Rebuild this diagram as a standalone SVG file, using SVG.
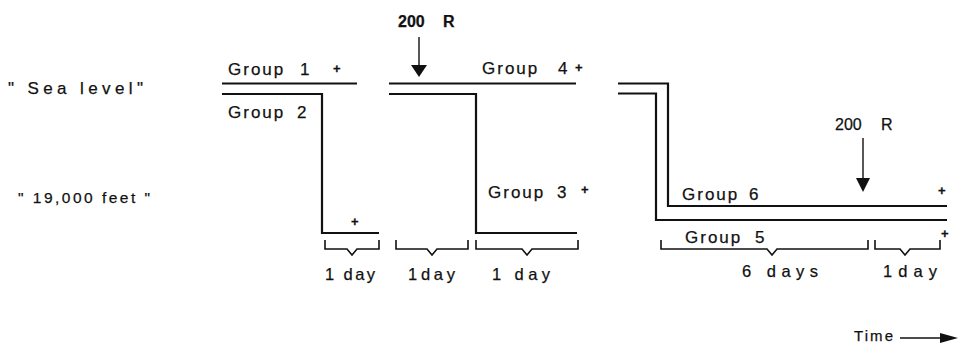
<svg xmlns="http://www.w3.org/2000/svg" width="959" height="343" viewBox="0 0 959 343">
  <style>
    text { font-family: "Liberation Sans", "DejaVu Sans", sans-serif; fill: #111; stroke: #111; stroke-width: 0.25; }
    .lbl { font-size: 17px; letter-spacing: 2px; }
    .alt { font-size: 17px; }
    .dur { font-size: 16.5px; }
    .dose { font-size: 16px; font-weight: bold; }
    .plus { font-size: 13px; font-weight: bold; }
    .track { fill: none; stroke: #111; stroke-width: 2.2; stroke-linejoin: miter; }
    .brace { fill: none; stroke: #111; stroke-width: 1.6; }
    .arrow { stroke: #111; stroke-width: 1.4; }
  </style>
  <rect width="959" height="343" fill="#fff"/>

  <!-- altitude labels -->
  <g id="altitude-labels">
    <text class="alt" x="8" y="94" textLength="135" lengthAdjust="spacing">" Sea level"</text>
    <text class="alt" x="18" y="203" style="font-size:15.5px" textLength="132" lengthAdjust="spacing">" 19,000 feet "</text>
  </g>

  <!-- exposure tracks -->
  <g id="connectors">
    <polyline class="track" points="222,83.5 357,83.5"/>
    <polyline class="track" points="222,94 322,94 322,233 379,233"/>
    <polyline class="track" points="389,83.5 576,83.5"/>
    <polyline class="track" points="389,94 476,94 476,233 577,233"/>
    <polyline class="track" points="618,83.5 668,83.5 668,206 947,206"/>
    <polyline class="track" points="618,93.5 656,93.5 656,220 947,220"/>
  </g>

  <g id="group1">
    <text class="lbl" x="228" y="75">Group<tspan x="300">1</tspan></text>
    <text class="plus" x="333" y="73">+</text>
  </g>
  <g id="group2">
    <text class="lbl" x="228" y="118">Group<tspan x="297">2</tspan></text>
    <text class="plus" x="351" y="226">+</text>
  </g>
  <g id="group3">
    <text class="lbl" x="488" y="198">Group<tspan x="557">3</tspan></text>
    <text class="plus" x="581" y="194">+</text>
  </g>
  <g id="group4">
    <text class="lbl" x="482" y="74">Group<tspan x="558">4</tspan></text>
    <text class="plus" x="575" y="72">+</text>
  </g>
  <g id="group6">
    <text class="lbl" x="682" y="200">Group<tspan x="749">6</tspan></text>
    <text class="plus" x="938" y="195">+</text>
  </g>
  <g id="group5">
    <text class="lbl" x="685" y="243">Group<tspan x="755">5</tspan></text>
    <text class="plus" x="941" y="238">+</text>
  </g>

  <!-- irradiation marks -->
  <g id="dose1">
    <text class="dose" x="398" y="27">200<tspan x="443">R</tspan></text>
    <line class="arrow" x1="419" y1="37" x2="419" y2="66" stroke-width="2"/>
    <polygon points="411,65 427,65 419,77" fill="#111"/>
  </g>
  <g id="dose2">
    <text class="dose" x="835" y="130" style="font-weight:normal">200<tspan x="881">R</tspan></text>
    <line class="arrow" x1="863" y1="138" x2="863" y2="179"/>
    <polygon points="856,178 870,178 863,192" fill="#111"/>
  </g>

  <!-- duration braces -->
  <g id="braces">
    <path class="brace" d="M325,240 V249 H347 L352,255 L357,249 H379 V240"/>
    <path class="brace" d="M396,240 V249 H427 L432,255 L437,249 H468 V240"/>
    <path class="brace" d="M476,240 V249 H522 L527,255 L532,249 H578 V240"/>
    <path class="brace" d="M661,240 V249 H767 L772,255 L777,249 H868 V240"/>
    <path class="brace" d="M875,240 V249 H900 L905,255 L910,249 H940 V240"/>
  </g>
  <g id="durations">
    <text class="dur" x="325" y="280" textLength="50" lengthAdjust="spacing">1 day</text>
    <text class="dur" x="408" y="280" textLength="47" lengthAdjust="spacing">1day</text>
    <text class="dur" x="492" y="280" textLength="58" lengthAdjust="spacing">1 day</text>
    <text class="dur" x="742" y="277" textLength="76" lengthAdjust="spacing">6 days</text>
    <text class="dur" x="883" y="277" textLength="54" lengthAdjust="spacing">1day</text>
  </g>

  <!-- time axis -->
  <g id="time-axis">
    <text class="alt" x="854" y="341" style="font-size:15px" textLength="39" lengthAdjust="spacing">Time</text>
    <line class="arrow" x1="900" y1="338" x2="942" y2="338"/>
    <polygon points="940,333 958,338 940,343" fill="#111"/>
  </g>
</svg>
